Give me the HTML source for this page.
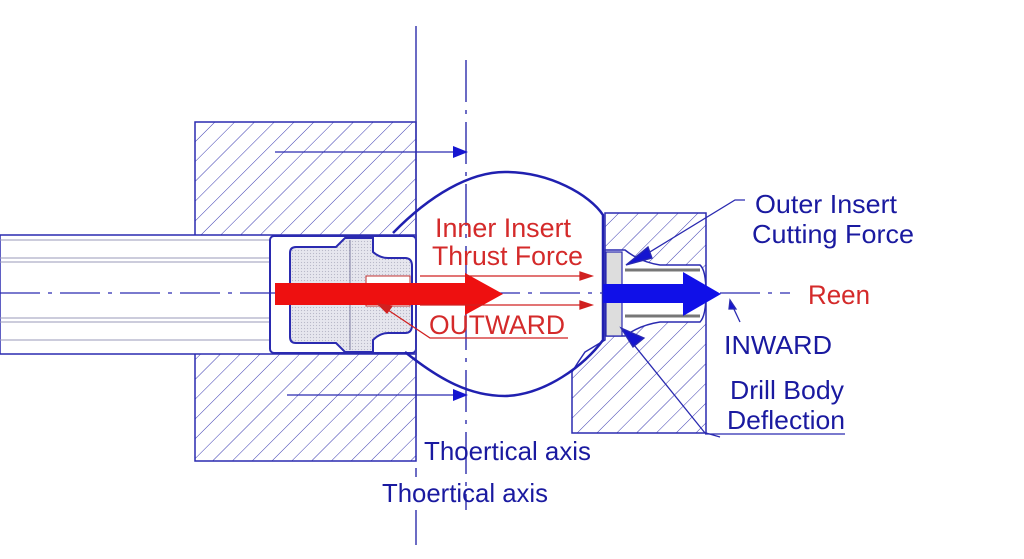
<!DOCTYPE html>
<html><head><meta charset="utf-8"><style>
html,body{margin:0;padding:0;background:#fff;width:1024px;height:559px;overflow:hidden}
svg{display:block}
text{font-family:"Liberation Sans",Arial,sans-serif}
</style></head><body>
<svg width="1024" height="559" viewBox="0 0 1024 559" xmlns="http://www.w3.org/2000/svg">
<defs>
<pattern id="h" patternUnits="userSpaceOnUse" width="14" height="14" patternTransform="rotate(45)">
<rect width="14" height="14" fill="#fff"/>
<line x1="0" y1="0" x2="0" y2="14" stroke="#3a3ab0" stroke-width="1"/>
</pattern>
<pattern id="dots" patternUnits="userSpaceOnUse" width="3" height="3">
<rect width="3" height="3" fill="#e6e6ee"/><circle cx="1.5" cy="1.5" r="0.6" fill="#b8b8c8"/>
</pattern>
</defs>
<path d="M195,122 H416 V461 H195 Z" fill="url(#h)" stroke="#2a2ab0" stroke-width="1.5"/>
<rect x="0" y="235" width="416" height="119" fill="#fff" stroke="#2a2ab0" stroke-width="1.5"/>
<g stroke="#9a9ab8" stroke-width="1">
<line x1="0" y1="240" x2="270" y2="240"/><line x1="0" y1="258" x2="270" y2="258"/><line x1="0" y1="262" x2="270" y2="262"/>
<line x1="0" y1="318" x2="270" y2="318"/><line x1="0" y1="322" x2="270" y2="322"/><line x1="0" y1="340" x2="270" y2="340"/>
</g>
<rect x="270" y="236" width="146" height="117" rx="4" fill="#fff" stroke="#2a2ab0" stroke-width="2"/>
<path d="M290,253 Q290,247 296,247 H336 L345,238 H373 V252 Q380,258 388,258 H405 Q412,258 412,266 V325 Q412,333 405,333 H388 Q380,333 373,340 V352 H345 L336,343 H296 Q290,343 290,337 Z" fill="url(#dots)" stroke="#2a2ab0" stroke-width="2"/>
<line x1="350" y1="240" x2="350" y2="350" stroke="#7a7aa0"/>
<rect x="366" y="276" width="44" height="30" fill="#fff" stroke="#c03030" stroke-width="1"/>
<line x1="416" y1="26" x2="416" y2="436" stroke="#3a3ab0" stroke-width="1.5"/>
<line x1="416" y1="468" x2="416" y2="477" stroke="#3a3ab0" stroke-width="1.5"/>
<line x1="416" y1="510" x2="416" y2="545" stroke="#3a3ab0" stroke-width="1.5"/>
<line x1="466" y1="60" x2="466" y2="510" stroke="#3a3ab0" stroke-width="1.5" stroke-dasharray="42,8,4,8"/>
<path d="M605,213 H706 V433 H572 V372 Q578,362 585,352 L605,340 Z" fill="url(#h)" stroke="#2a2ab0" stroke-width="1.5"/>
<path d="M605,250 H625 Q640,262 660,265 H700 Q706,270 706,293 Q706,316 700,322 H660 Q640,325 625,336 H605 Z" fill="#fff" stroke="#2a2ab0" stroke-width="1.5"/>
<rect x="606" y="252" width="16" height="84" fill="#ddd" stroke="#2a2ab0" stroke-width="1.2"/>
<line x1="625" y1="270" x2="700" y2="270" stroke="#777" stroke-width="3"/>
<line x1="625" y1="316" x2="700" y2="316" stroke="#777" stroke-width="3"/>
<line x1="706" y1="433" x2="720" y2="437" stroke="#2a2ab0" stroke-width="1.2"/>
<path d="M393,233 C430,195 470,172 505,172 C550,172 590,195 603,215 V340 C585,365 545,395 505,396 C470,396 440,380 405,352" fill="none" stroke="#2020b0" stroke-width="2.5"/>
<line x1="275" y1="152" x2="455" y2="152" stroke="#2a2ab0" stroke-width="1.3"/>
<path d="M468,152 L453,146 L453,158 Z" fill="#1515d0"/>
<line x1="287" y1="395" x2="455" y2="395" stroke="#2a2ab0" stroke-width="1.3"/>
<path d="M468,395 L453,389 L453,401 Z" fill="#1515d0"/>
<line x1="0" y1="293" x2="790" y2="293" stroke="#2a2ab0" stroke-width="1.2" stroke-dasharray="40,8,4,8"/>
<path d="M275,283 H465 V273 L503,294 L465,315 V305 H275 Z" fill="#ee1010"/>
<g stroke="#d02020" stroke-width="1.3" fill="#d02020">
<line x1="420" y1="276" x2="582" y2="276"/><path d="M592,276 L580,272 L580,280 Z"/>
<line x1="420" y1="305" x2="582" y2="305"/><path d="M592,305 L580,301 L580,309 Z"/>
<polyline points="568,338 430,338 385,308" fill="none"/><path d="M378,304 L392,306 L387,313 Z"/>
</g>
<path d="M603,284 H683 V272 L721,294 L683,316 V303 H603 Z" fill="#1010e8"/>
<g stroke="#2a2ab0" stroke-width="1.3" fill="#1515d0">
<polyline points="745,200 735,200 640,258" fill="none"/><path d="M626,265 L648,247 L652,258 Z"/>
<line x1="705" y1="433" x2="630" y2="340" /><path d="M621,328 L644,338 L633,347 Z"/>
<line x1="740" y1="322" x2="732" y2="305"/><path d="M730,300 L736,309 L729,309 Z"/>
<line x1="705" y1="434" x2="845" y2="434"/>
</g>
<g font-size="26.5" fill="#d42a2a">
<text x="435" y="237" textLength="136" lengthAdjust="spacingAndGlyphs">Inner Insert</text>
<text x="432" y="265" textLength="151" lengthAdjust="spacingAndGlyphs">Thrust Force</text>
<text x="429" y="334" textLength="136" lengthAdjust="spacingAndGlyphs">OUTWARD</text>
<text x="808" y="304" textLength="62" lengthAdjust="spacingAndGlyphs">Reen</text>
</g>
<g font-size="26" fill="#1a1aa0">
<text x="755" y="213" textLength="142" lengthAdjust="spacingAndGlyphs">Outer Insert</text>
<text x="752" y="243" textLength="162" lengthAdjust="spacingAndGlyphs">Cutting Force</text>
<text x="724" y="354" textLength="108" lengthAdjust="spacingAndGlyphs">INWARD</text>
<text x="730" y="399" textLength="114" lengthAdjust="spacingAndGlyphs">Drill Body</text>
<text x="727" y="429" textLength="118" lengthAdjust="spacingAndGlyphs">Deflection</text>
<text x="424" y="460" textLength="167" lengthAdjust="spacingAndGlyphs">Thoertical axis</text>
<text x="382" y="502" textLength="166" lengthAdjust="spacingAndGlyphs">Thoertical axis</text>
</g>
</svg>
</body></html>
